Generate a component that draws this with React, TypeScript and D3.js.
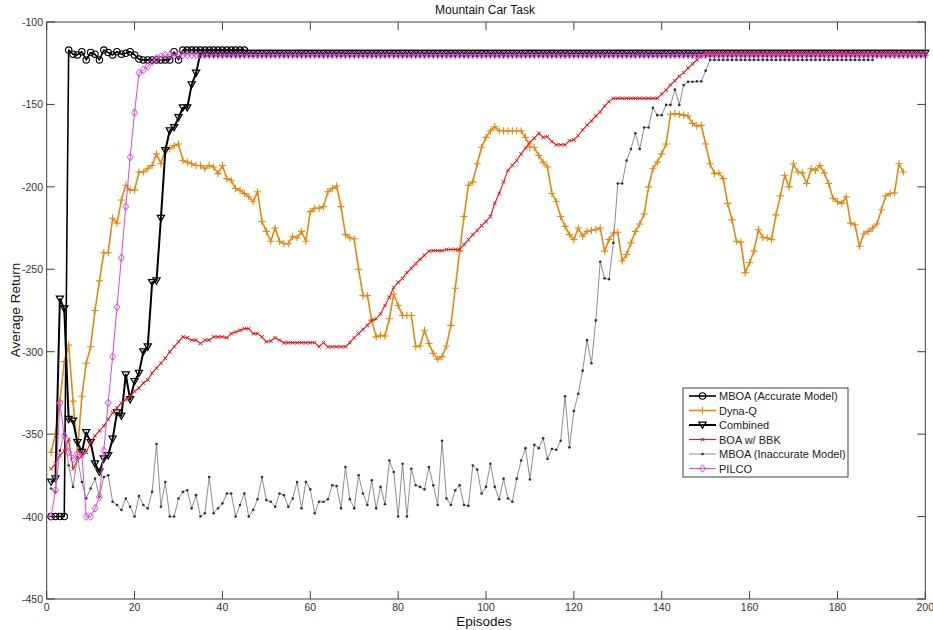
import React from 'react';
import * as d3 from 'd3';

const TITLE = 'Mountain Car Task';
const X_LABEL = 'Episodes';
const Y_LABEL = 'Average Return';
const EPISODE_TICKS = [0, 20, 40, 60, 80, 100, 120, 140, 160, 180, 200];
const RETURN_TICKS = [-450, -400, -350, -300, -250, -200, -150, -100];

// values are listed for episodes 1, 2, 3, ...
const MBOA_ACCURATE = [
  -400, -400, -400, -400, -117, -119.5, -120, -118, -123, -118.5,
  -119.5, -123, -117, -118.5, -120, -118, -119.5, -119, -118, -120,
  -122.5, -123, -123, -123, -123, -123, -123, -123, -118, -123,
  -117, -117, -117, -117, -117, -117, -117, -117, -117, -117,
  -117, -117, -117, -117, -117,
];

const DYNA_Q = [
  -361, -350, -330, -306, -296, -330, -361, -327, -307, -297,
  -275, -257, -240, -240, -219, -222, -208, -199, -202, -202,
  -191, -191, -189, -187, -180, -186, -177, -177, -175, -174,
  -184, -185, -186, -187, -187, -189, -187, -188, -192, -187,
  -195, -196, -201, -202, -204, -206, -209, -203, -221, -227,
  -233, -225, -233, -234.5, -234.5, -230, -231, -227, -233, -215,
  -213, -213, -212, -203, -201, -199.5, -212, -229, -231, -231.5,
  -250, -266, -266, -281, -291, -290, -290.5, -280, -265, -272,
  -278, -278, -278, -297, -296.5, -287, -295, -301, -304.5, -303,
  -296.5, -284, -261.5, -239, -218, -199, -197, -186, -176, -170,
  -166, -163.5, -166, -166, -166, -166, -166, -166, -170, -176,
  -176, -181, -185, -188, -204, -209, -218, -224, -229, -232,
  -225, -230, -227, -226.5, -226, -225, -239, -232, -228, -227.5,
  -245, -241, -234, -227, -222.5, -216.5, -200, -189, -185, -180,
  -174, -156, -155.5, -156, -156.5, -157, -161.5, -163, -162.7, -174,
  -186, -192, -191.6, -195, -210, -220, -233, -233.5, -252, -246,
  -239, -226, -230.6, -231, -232, -217, -205.5, -193, -200, -186,
  -191, -191.5, -198, -189, -190, -187, -191.5, -198, -207, -209,
  -210, -206, -222, -223, -236, -228.6, -227, -225, -222.5, -214,
  -205.5, -204, -203.7, -186, -191,
];

const COMBINED = [
  -379, -377, -268, -274, -341, -342, -355, -361, -349, -355,
  -368, -373, -365, -363, -353, -337, -339, -314, -329, -318,
  -313, -300, -297, -258, -257, -219, -178, -166, -164, -158,
  -152, -152, -138, -131, -119, -119, -119, -119, -119, -119,
  -119, -119, -119, -119, -119, -119, -119, -119, -119, -119,
  -119, -119, -119, -119, -119, -119, -119, -119, -119, -119,
  -119, -119, -119, -119, -119, -119, -119, -119, -119, -119,
  -119, -119, -119, -119, -119, -119, -119, -119, -119, -119,
  -119, -119, -119, -119, -119, -119, -119, -119, -119, -119,
  -119, -119, -119, -119, -119, -119, -119, -119, -119, -119,
  -119, -119, -119, -119, -119, -119, -119, -119, -119, -119,
  -119, -119, -119, -119, -119, -119, -119, -119, -119, -119,
  -119, -119, -119, -119, -119, -119, -119, -119, -119, -119,
  -119, -119, -119, -119, -119, -119, -119, -119, -119, -119,
  -119, -119, -119, -119, -119, -119, -119, -119, -119, -119,
  -119, -119, -119, -119, -119, -119, -119, -119, -119, -119,
  -119, -119, -119, -119, -119, -119, -119, -119, -119, -119,
  -119, -119, -119, -119, -119, -119, -119, -119, -119, -119,
  -119, -119, -119, -119, -119, -119, -119, -119, -119, -119,
  -119, -119, -119, -119, -119, -119, -119, -119, -119, -119,
];

const BOA_BBK = [
  -371, -368, -363, -360, -353, -371, -366, -363, -361, -355,
  -351, -348, -345, -341, -337, -334, -331, -329, -327, -324,
  -322, -319, -317, -313, -310, -307, -304, -300, -297, -294,
  -291, -291.5, -293, -293, -295, -293, -293, -291, -291, -291,
  -291.5, -289, -288, -287, -286, -286, -289, -289, -291, -294,
  -293.5, -291.5, -293, -294.5, -294.5, -294.5, -294.5, -294.5, -294.5, -294.5,
  -294.5, -297, -294.5, -297, -297, -297, -297, -297, -294.5, -291.5,
  -289, -286.5, -284, -281, -280, -277, -272, -267, -261, -258,
  -255.5, -252, -249.5, -246.5, -244, -241.5, -239, -238.7, -238.7, -238.7,
  -238, -238, -238, -238, -235, -232, -229, -226.5, -223.5, -221,
  -218, -210, -204, -197, -190, -187, -184, -180, -176.5, -173,
  -170.5, -167.5, -170, -169.5, -172.5, -174.5, -174.5, -174.5, -172, -171.5,
  -169, -165.5, -162.5, -160, -157, -154.5, -151, -148.3, -146.3, -146.3,
  -146.3, -146.3, -146.3, -146.3, -146.3, -146.3, -146.3, -146.3, -146.3, -143.7,
  -141.3, -138.2, -135.6, -133, -130.7, -128, -125.5, -123, -120.6, -119,
  -119, -119, -119, -119, -119, -119, -119, -119, -119, -119,
  -119, -119, -119, -119, -119, -119, -119, -119, -119, -119,
  -119, -119, -119, -119, -119, -119, -119, -119, -119, -119,
  -119, -119, -119, -119, -119, -119, -119, -119, -119, -119,
  -119, -119, -119, -119, -119, -119, -119, -119, -119, -119,
];

const MBOA_INACCURATE = [
  -383, -385, -360, -350, -369, -382, -364, -379, -389, -383,
  -377, -388, -376, -375, -391, -393, -396, -389, -394, -400,
  -387.5, -393, -395, -385, -356, -394, -379, -400, -400, -389,
  -385, -384, -395, -387, -400, -398, -376, -398, -395, -392,
  -386, -386, -400, -393, -386, -400, -396, -389.5, -376, -390,
  -391, -394, -386, -387, -394, -389, -379, -395, -379, -383.5,
  -398, -391, -391, -389.5, -381, -381.5, -395, -370, -389.5, -395,
  -375, -386, -393, -378, -395, -382, -392.5, -366, -373, -400,
  -368, -400, -371, -381, -382, -383.5, -370, -381, -393, -354,
  -389, -393, -384, -381, -393, -393.5, -369, -371.5, -386, -382,
  -368, -382, -389.5, -377, -389, -391, -377, -366, -358.5, -377.5,
  -356.5, -358.5, -352.5, -365, -359, -359.5, -354, -327, -358, -336,
  -325.5, -311.5, -293, -307, -281, -245.5, -255.5, -256, -234, -198,
  -198, -184, -177, -167.5, -177, -164, -164, -152, -156.5, -156.5,
  -150.3, -150.3, -141, -150.3, -138.2, -136.2, -136.2, -136, -136, -129.5,
  -123, -123, -123, -123, -123, -123, -123, -123, -123, -123,
  -123, -123, -123, -123, -123, -123, -123, -123, -123, -123,
  -123, -123, -123, -123, -123, -123, -123, -123, -123, -123,
  -123, -123, -123, -123, -123, -123, -123, -123,
];

const PILCO = [
  -400, -384, -331, -351, -361, -365, -362, -362, -400, -400,
  -395, -388, -360, -331, -303, -273, -243, -212, -182, -155,
  -131, -129, -127, -124, -122, -121, -120, -120, -120, -120,
  -120, -120, -120, -120, -120, -120, -120, -120, -120, -120,
  -120, -120, -120, -120, -120, -120, -120, -120, -120, -120,
  -120, -120, -120, -120, -120, -120, -120, -120, -120, -120,
  -120, -120, -120, -120, -120, -120, -120, -120, -120, -120,
  -120, -120, -120, -120, -120, -120, -120, -120, -120, -120,
  -120, -120, -120, -120, -120, -120, -120, -120, -120, -120,
  -120, -120, -120, -120, -120, -120, -120, -120, -120, -120,
  -120, -120, -120, -120, -120, -120, -120, -120, -120, -120,
  -120, -120, -120, -120, -120, -120, -120, -120, -120, -120,
  -120, -120, -120, -120, -120, -120, -120, -120, -120, -120,
  -120, -120, -120, -120, -120, -120, -120, -120, -120, -120,
  -120, -120, -120, -120, -120, -120, -120, -120, -120, -120,
  -120, -120, -120, -120, -120, -120, -120, -120, -120, -120,
  -120, -120, -120, -120, -120, -120, -120, -120, -120, -120,
  -120, -120, -120, -120, -120, -120, -120, -120, -120, -120,
  -120, -120, -120, -120, -120, -120, -120, -120, -120, -120,
  -120, -120, -120, -120, -120, -120, -120, -120, -120, -120,
];

const SERIES_NAMES = [
  'MBOA (Accurate Model)',
  'Dyna-Q',
  'Combined',
  'BOA w/ BBK',
  'MBOA (Inaccurate Model)',
  'PILCO',
];

type Marker = 'o' | '+' | 'v' | 'x' | '.' | 'd';
interface Series {
  name: string;
  values: number[];
  color: string;
  markerColor: string;
  width: number;
  marker: Marker;
}

const SERIES: Series[] = [
  { name: SERIES_NAMES[0], values: MBOA_ACCURATE, color: '#000000', markerColor: '#000000', width: 1.6, marker: 'o' },
  { name: SERIES_NAMES[1], values: DYNA_Q, color: '#E08A12', markerColor: '#E08A12', width: 1.6, marker: '+' },
  { name: SERIES_NAMES[2], values: COMBINED, color: '#000000', markerColor: '#000000', width: 2, marker: 'v' },
  { name: SERIES_NAMES[3], values: BOA_BBK, color: '#F01414', markerColor: '#F01414', width: 1.1, marker: 'x' },
  { name: SERIES_NAMES[4], values: MBOA_INACCURATE, color: '#808080', markerColor: '#303030', width: 0.9, marker: '.' },
  { name: SERIES_NAMES[5], values: PILCO, color: '#DC48DC', markerColor: '#DC48DC', width: 1, marker: 'd' },
];

const FONT = '"Liberation Sans", Arial, Helvetica, sans-serif';

function MarkerShape({ type, cx, cy, color }: { type: Marker; cx: number; cy: number; color: string }) {
  switch (type) {
    case 'o':
      return <circle cx={cx} cy={cy} r={3.2} fill="none" stroke={color} strokeWidth={1.1} />;
    case 'v':
      return (
        <path
          d={`M${cx - 3.6},${cy - 2.9}L${cx + 3.6},${cy - 2.9}L${cx},${cy + 3.4}Z`}
          fill="none"
          stroke={color}
          strokeWidth={1.2}
        />
      );
    case '+':
      return (
        <path
          d={`M${cx - 3.6},${cy}H${cx + 3.6}M${cx},${cy - 3.6}V${cy + 3.6}`}
          fill="none"
          stroke={color}
          strokeWidth={1.1}
        />
      );
    case 'x':
      return (
        <path
          d={`M${cx - 1.8},${cy - 1.8}L${cx + 1.8},${cy + 1.8}M${cx - 1.8},${cy + 1.8}L${cx + 1.8},${cy - 1.8}`}
          fill="none"
          stroke={color}
          strokeWidth={1}
        />
      );
    case '.':
      return <circle cx={cx} cy={cy} r={1.3} fill={color} />;
    case 'd':
      return (
        <path
          d={`M${cx},${cy - 3.8}L${cx + 3},${cy}L${cx},${cy + 3.8}L${cx - 3},${cy}Z`}
          fill="none"
          stroke={color}
          strokeWidth={1}
        />
      );
  }
  return null;
}

export default function App() {
  const W = 933;
  const H = 630;
  const left = 46.7;
  const right = 925.3;
  const top = 22;
  const bottom = 599;

  const x = d3.scaleLinear().domain([0, 200]).range([left, right]);
  const y = d3.scaleLinear().domain([-450, -100]).range([bottom, top]);

  const lineGen = d3
    .line<number>()
    .x((_, i) => x(i + 1))
    .y((v) => y(v));

  const tickLen = 8;
  const axisColor = '#404040';

  const legendX = 683;
  const legendY = 388;
  const legendW = 165;
  const legendH = 89;
  const legendRow = 14.5;

  return (
    <svg
      width={W}
      height={H}
      style={{ position: 'absolute', left: 0, top: 0, background: '#fff' }}
      fontFamily={FONT}
    >
      <rect x={0} y={0} width={W} height={H} fill="#ffffff" />

      {/* ticks */}
      {EPISODE_TICKS.map((t) => (
        <g key={'xt' + t}>
          <line x1={x(t)} x2={x(t)} y1={bottom} y2={bottom - tickLen} stroke={axisColor} strokeWidth={1} />
          <line x1={x(t)} x2={x(t)} y1={top} y2={top + tickLen} stroke={axisColor} strokeWidth={1} />
          <text x={x(t)} y={611} fontSize={10.5} fill="#333" textAnchor="middle">
            {t}
          </text>
        </g>
      ))}
      {RETURN_TICKS.map((t) => (
        <g key={'yt' + t}>
          <line x1={left} x2={left + tickLen} y1={y(t)} y2={y(t)} stroke={axisColor} strokeWidth={1} />
          <line x1={right} x2={right - tickLen} y1={y(t)} y2={y(t)} stroke={axisColor} strokeWidth={1} />
          <text x={43} y={y(t) + 4} fontSize={10.5} fill="#333" textAnchor="end">
            {t}
          </text>
        </g>
      ))}

      {/* series */}
      {SERIES.map((s) => (
        <g key={s.name}>
          <path d={lineGen(s.values) || ''} fill="none" stroke={s.color} strokeWidth={s.width} strokeLinejoin="round" />
          {s.values.map((v, i) => (
            <MarkerShape key={i} type={s.marker} cx={x(i + 1)} cy={y(v)} color={s.markerColor} />
          ))}
        </g>
      ))}

      {/* axes box */}
      <rect x={left} y={top} width={right - left} height={bottom - top} fill="none" stroke={axisColor} strokeWidth={1} />

      {/* title and labels */}
      <text x={485} y={14} fontSize={12} fill="#111" textAnchor="middle">
        {TITLE}
      </text>
      <text x={484} y={626} fontSize={13.5} fill="#111" textAnchor="middle">
        {X_LABEL}
      </text>
      <text
        transform={`translate(20,310) rotate(-90)`}
        fontSize={13.5}
        fill="#111"
        textAnchor="middle"
      >
        {Y_LABEL}
      </text>

      {/* legend */}
      <rect x={legendX} y={legendY} width={legendW} height={legendH} fill="#fff" stroke="#404040" strokeWidth={1} />
      {SERIES.map((s, i) => {
        const ly = legendY + 8 + i * legendRow;
        return (
          <g key={'lg' + s.name}>
            <line x1={legendX + 6} x2={legendX + 33} y1={ly} y2={ly} stroke={s.color} strokeWidth={s.width} />
            <MarkerShape type={s.marker} cx={legendX + 19.5} cy={ly} color={s.markerColor} />
            <text x={legendX + 36} y={ly + 4} fontSize={11} fill="#222">
              {s.name}
            </text>
          </g>
        );
      })}
    </svg>
  );
}
